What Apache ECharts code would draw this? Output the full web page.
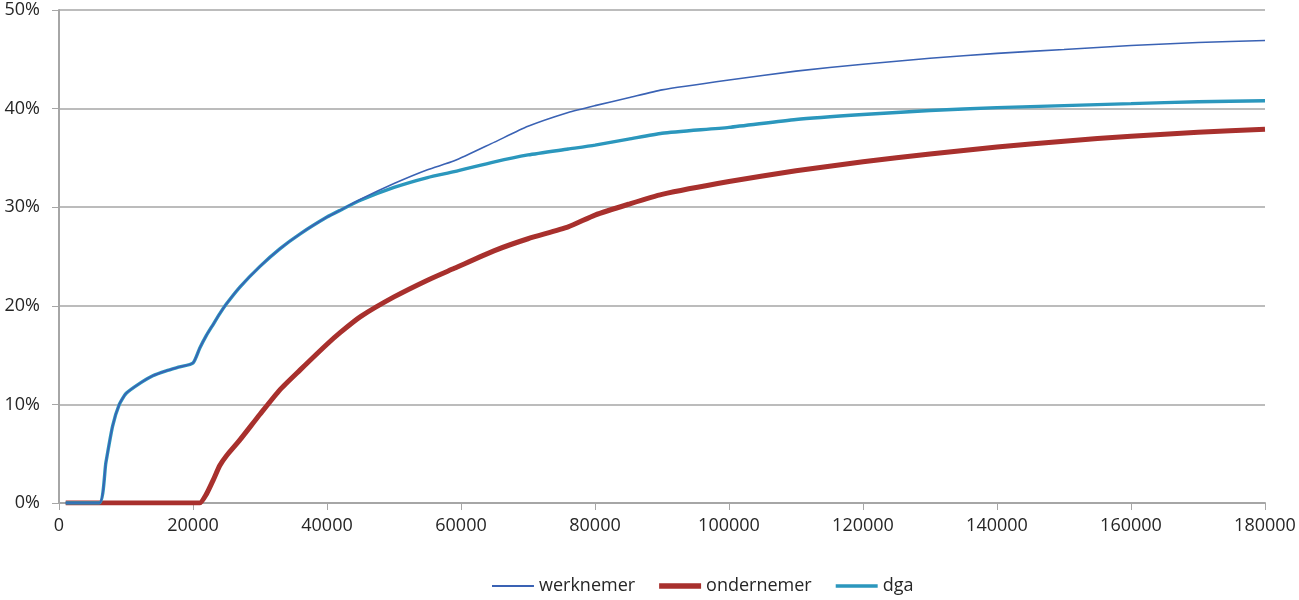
<!DOCTYPE html>
<html>
<head>
<meta charset="utf-8">
<script src="https://cdn.jsdelivr.net/npm/echarts@6/dist/echarts.min.js"></script>
<style>
html,body{margin:0;padding:0;background:#fff;}
#chart{width:1299px;height:600px;}
</style>
</head>
<body>
<div id="chart"></div>
<script>
// income (x) values
var income = [1000, 6000, 7000, 8000, 9000, 10000, 12000, 14000, 16000, 18000, 20000, 21000, 22000, 23000, 24000, 25000, 27000, 30000, 33000, 36000, 40000, 42000, 45000, 50000, 55000, 59000, 65000, 70000, 76000, 80000, 85000, 90000, 100000, 110000, 120000, 130000, 140000, 150000, 160000, 170000, 180000];
// percentages
var werknemer = [0, 0, 4.1, 7.8, 10.0, 11.1, 12.1, 12.9, 13.4, 13.8, 14.2, 15.7, 17.0, 18.1, 19.2, 20.2, 21.9, 24.0, 25.8, 27.3, 29.0, 29.7, 30.8, 32.4, 33.8, 34.7, 36.6, 38.2, 39.6, 40.3, 41.1, 41.9, 42.9, 43.8, 44.5, 45.1, 45.6, 46.0, 46.4, 46.7, 46.9];
var ondernemer = [0, 0, 0, 0, 0, 0, 0, 0, 0, 0, 0, 0, 0.9, 2.3, 3.8, 4.8, 6.4, 9.0, 11.5, 13.5, 16.1, 17.3, 18.9, 20.9, 22.6, 23.8, 25.6, 26.8, 28.0, 29.2, 30.3, 31.3, 32.6, 33.7, 34.6, 35.4, 36.1, 36.7, 37.2, 37.6, 37.9];
var dga = [0, 0, 4.1, 7.8, 10.0, 11.1, 12.1, 12.9, 13.4, 13.8, 14.2, 15.7, 17.0, 18.1, 19.2, 20.2, 21.9, 24.0, 25.8, 27.3, 29.0, 29.7, 30.7, 32.0, 33.0, 33.6, 34.6, 35.3, 35.9, 36.3, 36.9, 37.5, 38.1, 38.9, 39.4, 39.8, 40.1, 40.3, 40.5, 40.7, 40.8];
var seriesNames = ['werknemer', 'ondernemer', 'dga'];
var seriesColors = ['#3a62b4', '#a8302d', '#2b97bd'];
var yTickLabels = ['0%', '10%', '20%', '30%', '40%', '50%'];

function pairs(vals) {
  return income.map(function (x, i) { return [x, vals[i]]; });
}
// legend line icons of different thickness inside a 42x10 box
function bar(h) {
  var y0 = (10 - h) / 2;
  return 'path://M0,0h0.01v0.01h-0.01z M0,' + y0 + 'h42v' + h + 'h-42z M41.99,10h0.01v0.01h-0.01z';
}

var chart = echarts.init(document.getElementById('chart'));
var font = 'Open Sans, Noto Sans, sans-serif';
chart.setOption({
  animation: false,
  backgroundColor: '#ffffff',
  grid: { left: 59, right: 34, top: 10, bottom: 97, containLabel: false },
  legend: {
    top: 572,
    left: 487,
    itemWidth: 42,
    itemHeight: 10,
    itemGap: 24,
    textStyle: { fontFamily: font, fontSize: 18, color: '#262626' },
    data: [
      { name: seriesNames[0], icon: bar(2) },
      { name: seriesNames[1], icon: bar(5.5) },
      { name: seriesNames[2], icon: bar(3.5) }
    ]
  },
  xAxis: {
    type: 'value',
    min: 0, max: 180000, interval: 20000,
    axisLine: { show: true, lineStyle: { color: '#a6a6a6', width: 2 } },
    axisTick: { show: true, length: 7, lineStyle: { color: '#a6a6a6', width: 1 } },
    axisLabel: { fontFamily: font, fontSize: 18, color: '#262626', margin: 14, formatter: function (v) { return String(v); } },
    splitLine: { show: false }
  },
  yAxis: {
    type: 'value',
    min: 0, max: 50, interval: 10,
    axisLine: { show: true, lineStyle: { color: '#a6a6a6', width: 2 } },
    axisTick: { show: true, length: 7, lineStyle: { color: '#a6a6a6', width: 1 } },
    axisLabel: { fontFamily: font, fontSize: 18, color: '#262626', margin: 19,
      formatter: function (v) { return yTickLabels[Math.round(v / 10)]; } },
    splitLine: { show: true, lineStyle: { color: '#a6a6a6', width: 1.5 } }
  },
  series: [
    { name: seriesNames[0], type: 'line', data: pairs(werknemer), symbol: 'none', smooth: 0.2, z: 4,
      lineStyle: { color: seriesColors[0], width: 1.6 }, itemStyle: { color: seriesColors[0] } },
    { name: seriesNames[1], type: 'line', data: pairs(ondernemer), symbol: 'none', smooth: 0.2, z: 2,
      lineStyle: { color: seriesColors[1], width: 5 }, itemStyle: { color: seriesColors[1] } },
    { name: seriesNames[2], type: 'line', data: pairs(dga), symbol: 'none', smooth: 0.2, z: 3,
      lineStyle: { color: seriesColors[2], width: 3.4 }, itemStyle: { color: seriesColors[2] } }
  ]
});
</script>
</body>
</html>
